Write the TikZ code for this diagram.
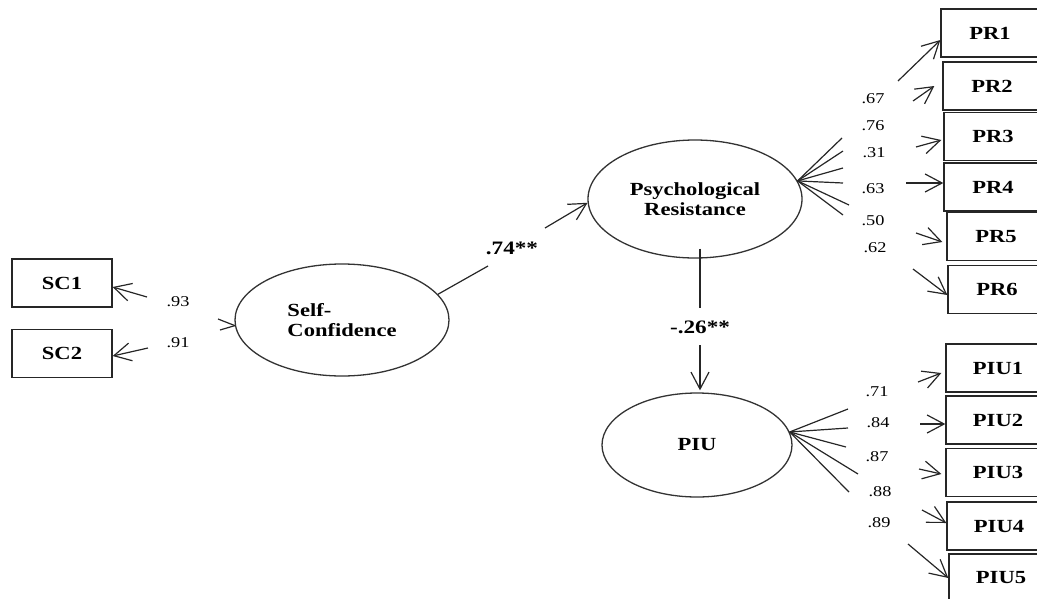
\documentclass[tikz,border=0pt]{standalone}
\usepackage{fontspec}
\setmainfont[FakeStretch=1.22]{Liberation Serif}
\usetikzlibrary{arrows.meta,shapes.geometric}
\begin{document}
\begin{tikzpicture}[x=1pt,y=-1pt,
 box/.style={draw=black!85,line width=1.3pt,minimum height=48pt,inner sep=0pt,font=\fontsize{18.5}{20}\selectfont\bfseries},
 prbox/.style={box,minimum width=98pt},
 piubox/.style={box,minimum width=104pt},
 latent/.style={draw=black!80,line width=1.3pt,ellipse,inner sep=0pt,font=\fontsize{18.5}{20}\selectfont\bfseries,align=center},
 ln/.style={draw=black!85,line width=1.2pt},
 arr/.style={ln,-{Straight Barb[length=17pt,width=18pt,line width=1.2pt]}},
 load/.style={font=\fontsize{15}{16}\selectfont,inner sep=0pt},
 pathlbl/.style={font=\fontsize{19}{20}\selectfont\bfseries,inner sep=0pt}]
\useasboundingbox (0,0) rectangle (1037,598);

% observed variables
\node[box,minimum width=100pt] (sc1) at (62,283) {SC1};
\node[box,minimum width=100pt] (sc2) at (62,353.5) {SC2};
\node[prbox] (pr1) at (990,33) {PR1};
\node[prbox] (pr2) at (992,86) {PR2};
\node[prbox] (pr3) at (993,136.5) {PR3};
\node[prbox] (pr4) at (993,187) {PR4};
\node[prbox] (pr5) at (996,236.5) {PR5};
\node[prbox] (pr6) at (997,289.5) {PR6};
\node[piubox] (piu1) at (998,368) {PIU1};
\node[piubox] (piu2) at (998,420) {PIU2};
\node[piubox] (piu3) at (998,472.5) {PIU3};
\node[piubox] (piu4) at (999,526) {PIU4};
\node[piubox] (piu5) at (1001,578) {PIU5};

% latent variables
\node[latent,minimum width=214pt,minimum height=112pt,align=left] (sc) at (342,320) {Self-\\Confidence};
\node[latent,minimum width=214pt,minimum height=118pt] (pr) at (695,199) {Psychological\\Resistance};
\node[latent,minimum width=190pt,minimum height=104pt] (piu) at (697,445) {PIU};

% Self-Confidence measurement
\coordinate (e1) at (218,319); \coordinate (e2) at (220,330);
\coordinate (a1) at (147,297); \coordinate (a2) at (148,348);
\draw[ln] (sc.183) -- (e1);
\draw[ln] (sc.183) -- (e2);
\draw[arr] (a1) -- ([yshift=-4pt]sc1.east);
\draw[arr] (a2) -- ([yshift=-2.5pt]sc2.east);
\node[load] (l93) at (178,302) {.93};
\node[load] (l91) at (178,343) {.91};

% structural paths
\coordinate (m1) at (488,266); \coordinate (m2) at (545,228);
\draw[ln] (sc.15) -- (m1);
\draw[arr] (m2) -- (pr.182);
\node[pathlbl] (p74) at (512,248) {.74**};

\coordinate (v1) at (700,308); \coordinate (v2) at (700,345);
\draw[ln] ([xshift=5pt,yshift=10pt]pr.south) -- (v1);
\draw[arr] (v2) -- ([xshift=3pt,yshift=2pt]piu.north);
\node[pathlbl] (p26) at (700,327) {-.26**};

% Psychological Resistance measurement
\coordinate (f1) at (842,138); \coordinate (f2) at (843,151);
\coordinate (f3) at (843,168); \coordinate (f4) at (843,183);
\coordinate (f5) at (849,205); \coordinate (f6) at (843,215);
\foreach \f in {f1,f2,f3,f4,f5,f6} \draw[ln] (pr.10) -- (\f);
\coordinate (b1) at (898,81);  \coordinate (b2) at (913,101);
\coordinate (b3) at (916,147); \coordinate (b4) at (906,183);
\coordinate (b5) at (916,233); \coordinate (b6) at (913,269);
\draw[arr] (b1) -- ([yshift=-7pt]pr1.west);
\draw[arr] (b2) -- ([xshift=-8pt]pr2.west);
\draw[arr] (b3) -- ([xshift=-2pt,yshift=-3.5pt]pr3.west);
\draw[arr] (b4) -- ([yshift=4pt]pr4.west);
\draw[arr] (b5) -- ([xshift=-4pt,yshift=-5.5pt]pr5.west);
\draw[arr] (b6) -- ([yshift=-5.5pt]pr6.west);
\node[load] (l67) at (873,99) {.67};
\node[load] (l76) at (873,126) {.76};
\node[load] (l31) at (874,153) {.31};
\node[load] (l63) at (873,189) {.63};
\node[load] (l50) at (873,221) {.50};
\node[load] (l62) at (875,248) {.62};

% PIU measurement
\coordinate (g1) at (848,409); \coordinate (g2) at (848,428);
\coordinate (g3) at (846,447); \coordinate (g4) at (858,474);
\coordinate (g5) at (849,492);
\foreach \g in {g1,g2,g3,g4,g5} \draw[ln] (piu.8) -- (\g);
\coordinate (c1) at (918,382); \coordinate (c2) at (920,424);
\coordinate (c3) at (919,469); \coordinate (c4) at (922,510);
\coordinate (c5) at (908,544);
\draw[arr] (c1) -- ([xshift=-4pt,yshift=-5pt]piu1.west);
\draw[arr] (c2) -- ([yshift=-4pt]piu2.west);
\draw[arr] (c3) -- ([xshift=-4pt,yshift=-1.5pt]piu3.west);
\draw[arr] (c4) -- ([yshift=3pt]piu4.west);
\draw[arr] (c5) -- (piu5.west);
\node[load] (l71) at (877,392) {.71};
\node[load] (l84) at (878,423) {.84};
\node[load] (l87) at (877,457) {.87};
\node[load] (l88) at (880,492) {.88};
\node[load] (l89) at (879,523) {.89};
\end{tikzpicture}
\end{document}
